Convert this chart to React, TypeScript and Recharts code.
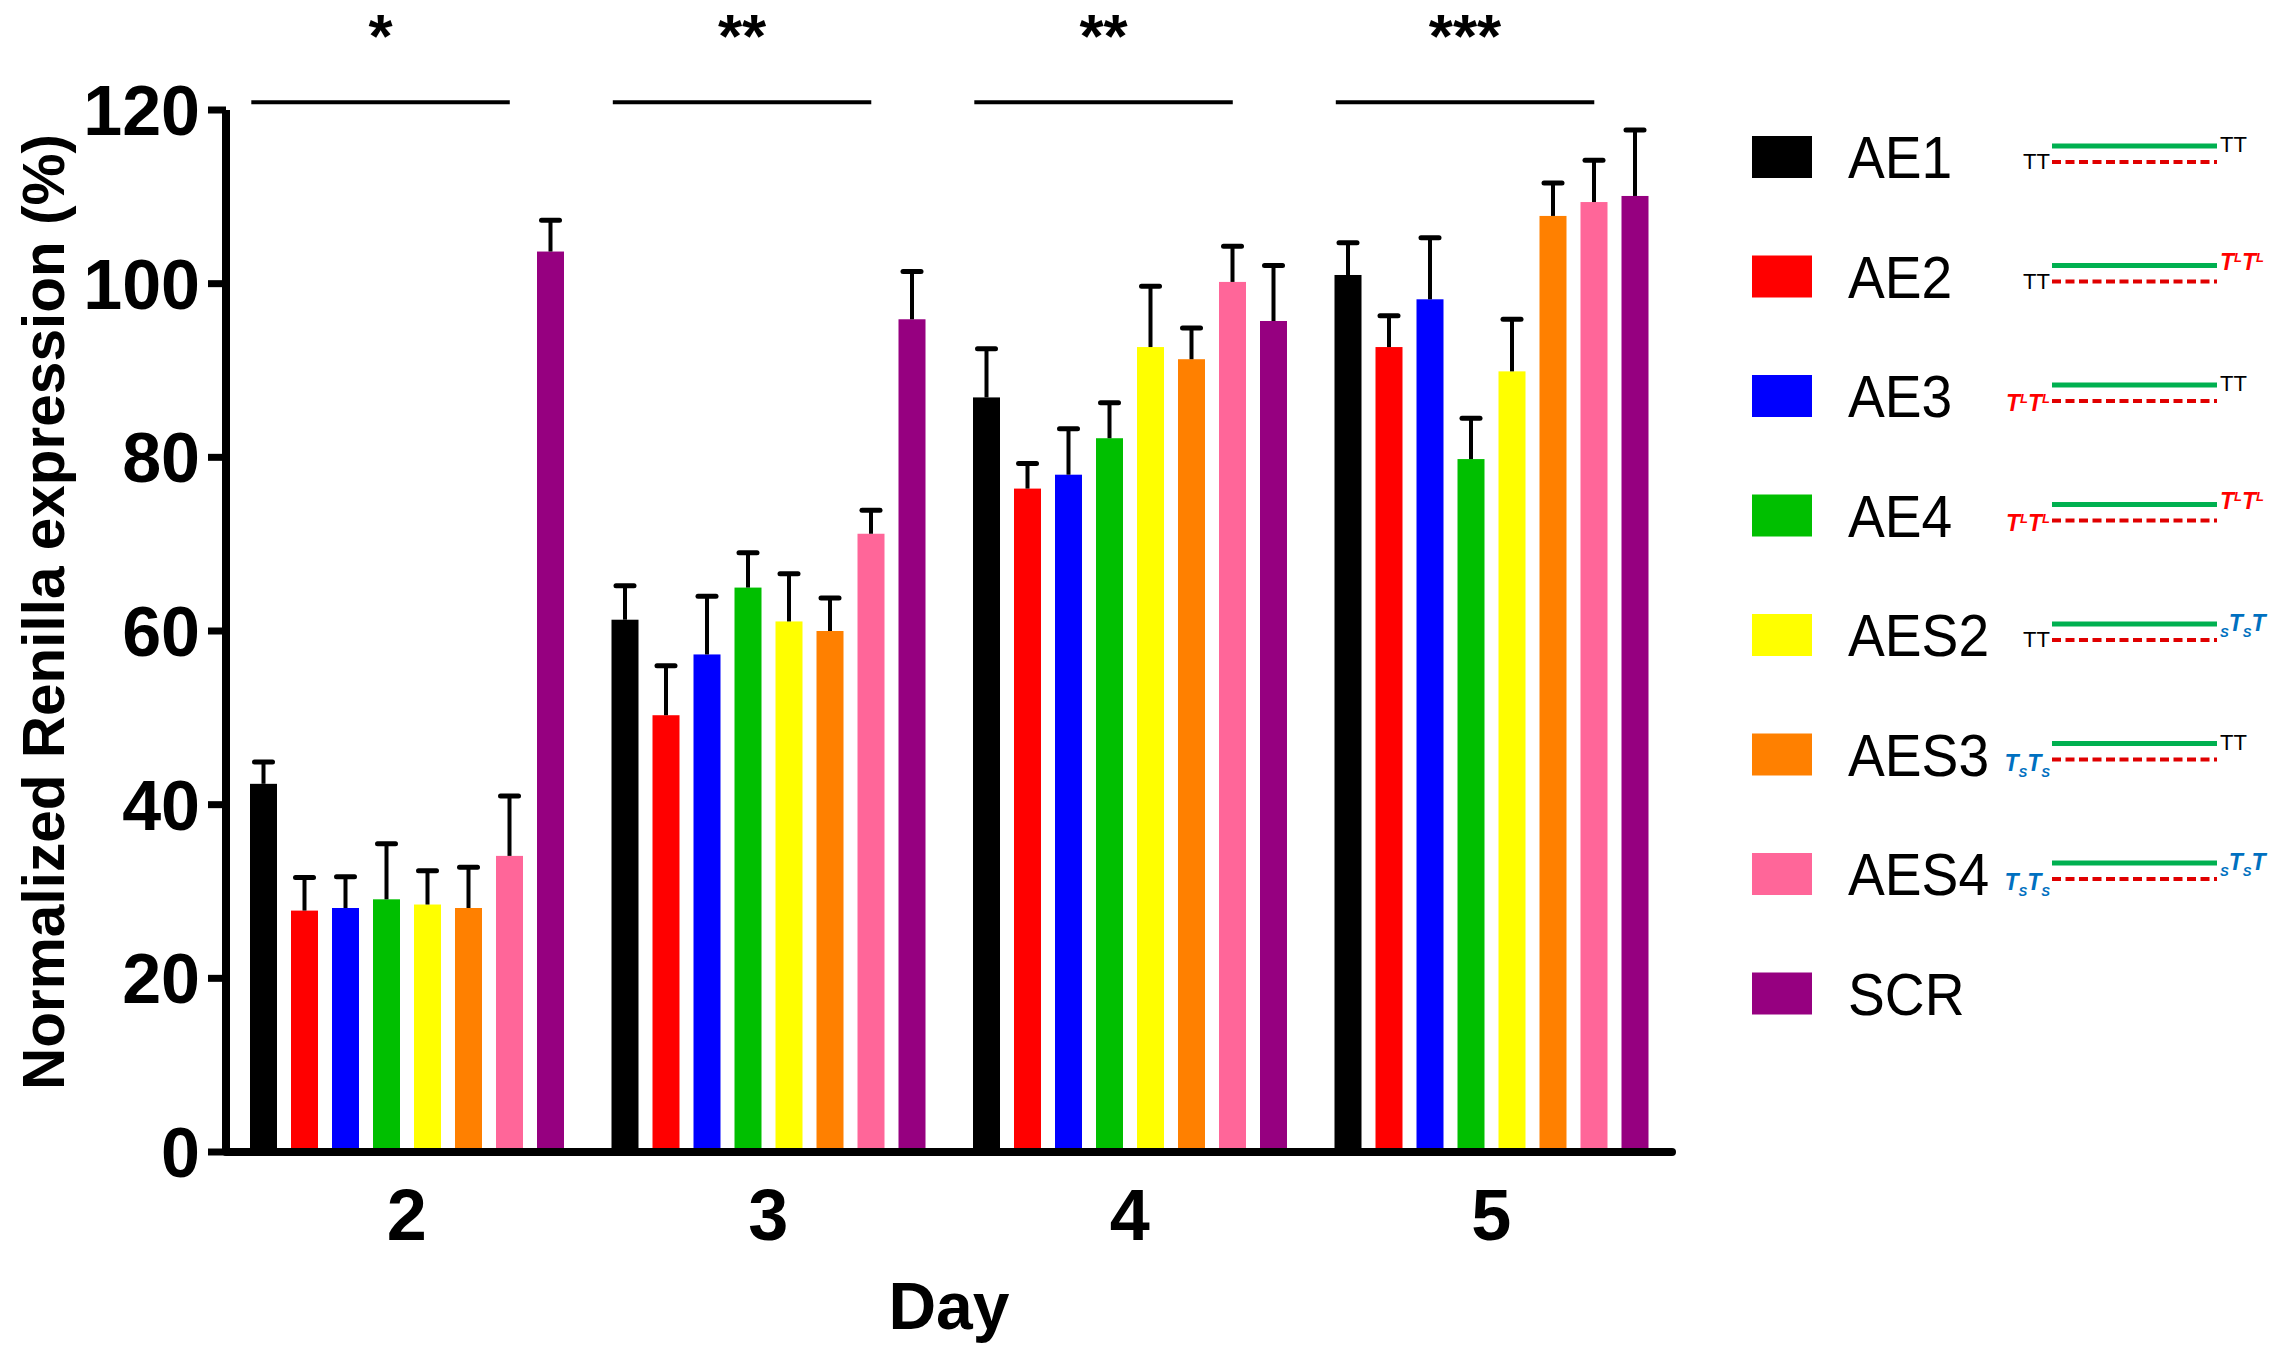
import React from 'react';
import { BarChart, Bar, XAxis, YAxis, ReferenceLine, Legend } from 'recharts';

// Renilla expression (% of control) per day, mean and upper SEM
const DAYS = ['2', '3', '4', '5'];
const AE1 = [42.4, 61.3, 86.9, 101.0];
const AE1_ERR = [2.5, 3.9, 5.6, 3.7];
const AE2 = [27.8, 50.3, 76.4, 92.7];
const AE2_ERR = [3.8, 5.7, 2.9, 3.6];
const AE3 = [28.1, 57.3, 78.0, 98.2];
const AE3_ERR = [3.6, 6.7, 5.3, 7.1];
const AE4 = [29.1, 65.0, 82.2, 79.8];
const AE4_ERR = [6.4, 4.0, 4.1, 4.7];
const AES2 = [28.5, 61.1, 92.7, 89.9];
const AES2_ERR = [3.9, 5.5, 7.0, 6.0];
const AES3 = [28.1, 60.0, 91.3, 107.8];
const AES3_ERR = [4.7, 3.8, 3.6, 3.8];
const AES4 = [34.1, 71.2, 100.2, 109.4];
const AES4_ERR = [6.9, 2.7, 4.1, 4.8];
const SCR = [103.7, 95.9, 95.7, 110.1];
const SCR_ERR = [3.6, 5.5, 6.4, 7.6];
const SIG_LABELS = ['*', '**', '**', '***'];
const Y_TICKS = [0, 20, 40, 60, 80, 100, 120];

const FONT = "'Liberation Sans', Arial, sans-serif";

const SERIES = [
  { key: 'AE1', color: '#000000', mean: AE1, err: AE1_ERR, left: 'TT', right: 'TT' },
  { key: 'AE2', color: '#FF0000', mean: AE2, err: AE2_ERR, left: 'TT', right: 'TL' },
  { key: 'AE3', color: '#0000FF', mean: AE3, err: AE3_ERR, left: 'TL', right: 'TT' },
  { key: 'AE4', color: '#00BF00', mean: AE4, err: AE4_ERR, left: 'TL', right: 'TL' },
  { key: 'AES2', color: '#FFFF00', mean: AES2, err: AES2_ERR, left: 'TT', right: 'sT' },
  { key: 'AES3', color: '#FF8000', mean: AES3, err: AES3_ERR, left: 'TS', right: 'TT' },
  { key: 'AES4', color: '#FF6699', mean: AES4, err: AES4_ERR, left: 'TS', right: 'sT' },
  { key: 'SCR', color: '#960080', mean: SCR, err: SCR_ERR, left: null, right: null },
];

const data = DAYS.map((day, i) => {
  const row: any = { day };
  SERIES.forEach((s) => {
    row[s.key] = s.mean[i];
    row[s.key + '_err'] = s.err[i];
  });
  return row;
});

// bar with a one-sided (upper) error bar
const BarWithErr = (props: any) => {
  const { x, y, width, height, fill, payload, valueKey } = props;
  const v = payload[valueKey];
  const e = payload[valueKey + '_err'];
  const top = y - (height * e) / v;
  const cx = x + width / 2;
  return (
    <g>
      <rect x={x} y={y} width={width} height={height} fill={fill} />
      <line x1={cx} x2={cx} y1={y} y2={top} stroke="#000" strokeWidth={4} />
      <line x1={cx - 9} x2={cx + 9} y1={top} y2={top} stroke="#000" strokeWidth={5} strokeLinecap="round" />
    </g>
  );
};

// little strand-end labels drawn next to the duplex sketch in the legend
const End = ({ kind, x, y, anchor }: any) => {
  if (kind === 'TT') {
    return (
      <text x={x} y={y + (anchor === 'end' ? 12 : -5)} textAnchor={anchor} fontSize={22} fill="#000" fontFamily={FONT}>
        TT
      </text>
    );
  }
  const blue = kind === 'TS' || kind === 'sT';
  const base = y + (anchor === 'end' ? (blue ? 16 : 15) : (blue ? -4 : -7));
  const big = { fontSize: 23 };
  const small = { fontSize: 13 };
  let parts: any[] = [];
  if (kind === 'TL') {
    parts = [
      <tspan key="a" {...big}>T</tspan>,
      <tspan key="b" {...small} dy={-8}>L</tspan>,
      <tspan key="c" {...big} dy={8}>T</tspan>,
      <tspan key="d" {...small} dy={-8}>L</tspan>,
    ];
  } else if (kind === 'TS') {
    parts = [
      <tspan key="a" {...big}>T</tspan>,
      <tspan key="b" {...small} dy={6}>S</tspan>,
      <tspan key="c" {...big} dy={-6}>T</tspan>,
      <tspan key="d" {...small} dy={6}>S</tspan>,
    ];
  } else {
    parts = [
      <tspan key="a" {...small} dy={6}>S</tspan>,
      <tspan key="b" {...big} dy={-6}>T</tspan>,
      <tspan key="c" {...small} dy={6}>S</tspan>,
      <tspan key="d" {...big} dy={-6}>T</tspan>,
    ];
  }
  return (
    <text x={x} y={base} textAnchor={anchor} fontWeight="bold" fontStyle="italic" fill={blue ? '#0070C0' : '#FF0000'} fontFamily={FONT}>
      {parts}
    </text>
  );
};

const renderLegend = () => (
  <svg width={575} height={1000}>
    {SERIES.map((s, i) => {
      const cy = 67 + 119.5 * i;
      return (
        <g key={s.key}>
          <rect x={52} y={cy - 21} width={60} height={42} fill={s.color} />
          <text transform={`translate(148 ${cy + 21}) scale(0.92 1)`} fontSize={60} fill="#000" fontFamily={FONT}>
            {s.key}
          </text>
          {s.left && (
            <g>
              <line x1={352} x2={517} y1={cy - 11} y2={cy - 11} stroke="#00B050" strokeWidth={5} />
              <line x1={352} x2={517} y1={cy + 5} y2={cy + 5} stroke="#E00000" strokeWidth={4} strokeDasharray="9 4.5" />
              <End kind={s.left} x={350} y={cy} anchor="end" />
              <End kind={s.right} x={520} y={cy} anchor="start" />
            </g>
          )}
        </g>
      );
    })}
  </svg>
);

export default function App() {
  return (
    <div style={{ position: 'absolute', left: 0, top: 0, width: 2275, height: 1360, background: '#fff', fontFamily: FONT }}>
      <BarChart
        width={2275}
        height={1360}
        data={data}
        margin={{ top: 110, right: 603, bottom: 8, left: 126 }}
        barGap={14}
      >
        <XAxis
          dataKey="day"
          height={200}
          interval={0}
          tickLine={false}
          tickSize={0}
          tickMargin={37}
          axisLine={{ stroke: '#000', strokeWidth: 8, strokeLinecap: 'round' }}
          tick={{ fill: '#000', fontSize: 72, fontWeight: 'bold', fontFamily: FONT }}
          label={{ value: 'Day', position: 'insideBottom', offset: 23, fill: '#000', fontSize: 66, fontWeight: 'bold', fontFamily: FONT }}
        />
        {/* hidden linear axis over the 4 day bands, used to place the significance bars */}
        <XAxis xAxisId="sig" dataKey="day" type="number" domain={[0, 4]} allowDataOverflow hide />
        <YAxis
          width={100}
          domain={[0, 120]}
          ticks={Y_TICKS}
          interval={0}
          tickSize={18}
          tickMargin={8}
          tickLine={{ stroke: '#000', strokeWidth: 7 }}
          axisLine={{ stroke: '#000', strokeWidth: 8 }}
          tick={{ fill: '#000', fontSize: 70, fontWeight: 'bold', fontFamily: FONT }}
          label={{
            value: 'Normalized Renilla expression (%)',
            angle: -90,
            position: 'center',
            dx: -133,
            dy: -19,
            fill: '#000',
            fontSize: 58.5,
            fontWeight: 'bold',
            fontFamily: FONT,
          }}
        />
        {SERIES.map((s) => (
          <Bar
            key={s.key}
            dataKey={s.key}
            fill={s.color}
            barSize={27}
            isAnimationActive={false}
            shape={(p: any) => <BarWithErr {...p} valueKey={s.key} />}
          />
        ))}
        {SIG_LABELS.map((lab, i) => (
          <ReferenceLine
            key={i}
            xAxisId="sig"
            ifOverflow="visible"
            segment={[{ x: i + 0.07, y: 120.9 }, { x: i + 0.785, y: 120.9 }]}
            stroke="#000"
            strokeWidth={4}
            label={{ value: lab, position: 'top', offset: 45, fill: '#000', fontSize: 62, fontWeight: 'bold', fontFamily: FONT }}
          />
        ))}
        <Legend
          layout="vertical"
          align="center"
          verticalAlign="middle"
          content={renderLegend}
          wrapperStyle={{ left: 1700, top: 90, width: 575, height: 1000 }}
        />
      </BarChart>
    </div>
  );
}
